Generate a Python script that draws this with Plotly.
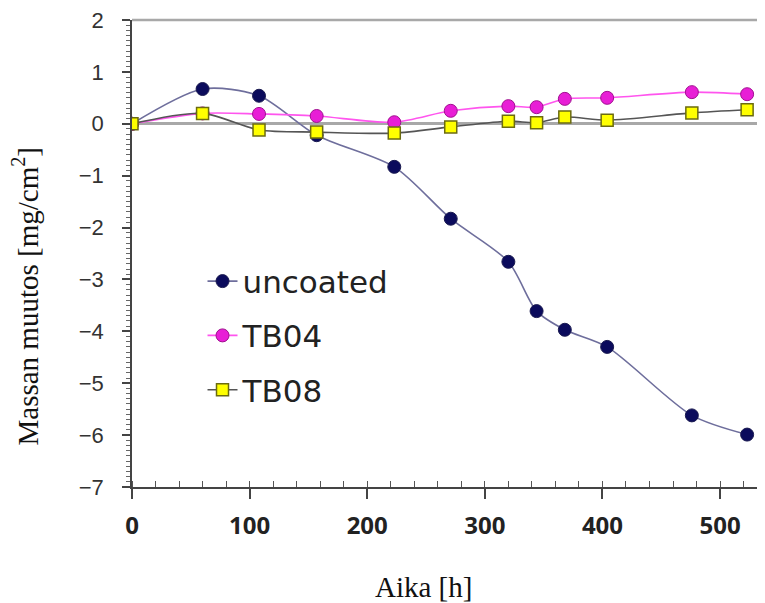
import plotly.graph_objects as go

hours = [0, 60, 108, 157, 223, 271, 320, 344, 368, 404, 476, 523]
uncoated = [0.0, 0.67, 0.54, -0.22, -0.83, -1.83, -2.66, -3.61, -3.97, -4.30, -5.62, -5.99]
tb04 = [0.0, 0.20, 0.19, 0.15, 0.03, 0.25, 0.34, 0.32, 0.48, 0.50, 0.61, 0.57]
tb08 = [0.0, 0.20, -0.12, -0.16, -0.18, -0.06, 0.05, 0.02, 0.13, 0.07, 0.21, 0.27]

fig = go.Figure()
fig.add_trace(go.Scatter(
    x=hours, y=uncoated, name="uncoated", mode="lines+markers", legendgroup="a",
    line=dict(color="#6e6e9c", width=1.6, shape="spline", smoothing=0.8),
    marker=dict(symbol="circle", size=13, color="#0b0b5c", line=dict(color="#1a1a50", width=1)),
))
fig.add_trace(go.Scatter(
    x=hours, y=tb04, name="TB04", mode="lines+markers", legendgroup="b",
    line=dict(color="#ff55ee", width=1.6, shape="spline", smoothing=0.8),
    marker=dict(symbol="circle", size=13, color="#e81ed6", line=dict(color="#a0108f", width=1)),
))
fig.add_trace(go.Scatter(
    x=hours, y=tb08, name="TB08", mode="lines+markers", legendgroup="c",
    line=dict(color="#555555", width=1.6, shape="spline", smoothing=0.8),
    marker=dict(symbol="square", size=12, color="#ffff00", line=dict(color="#6b6b10", width=1.5)),
))

fig.add_shape(type="line", xref="paper", yref="paper", x0=0, x1=1.02, y0=1, y1=1,
              line=dict(color="#a8a8a8", width=2.5))

fig.add_annotation(
    text="Massan muutos [mg/cm<sup>2</sup>]", xref="paper", yref="paper",
    x=-0.167, y=0.41, textangle=-90, showarrow=False, xanchor="center", yanchor="middle",
    font=dict(family="Liberation Serif", size=29, color="#111111"),
)
fig.add_annotation(
    text="Aika [h]", xref="paper", yref="paper",
    x=0.455, y=-0.214, showarrow=False, xanchor="center", yanchor="middle",
    font=dict(family="Liberation Serif", size=29, color="#111111"),
)

fig.update_layout(
    width=765, height=603,
    margin=dict(l=124, r=0, t=12, b=124),
    paper_bgcolor="white", plot_bgcolor="white",
    showlegend=True,
    legend=dict(x=0.11, y=0.498, xanchor="left", yanchor="top",
                font=dict(family="DejaVu Sans", size=31, color="#222222"),
                bgcolor="rgba(0,0,0,0)", tracegroupgap=11, itemwidth=30),
    xaxis=dict(
        range=[0, 545], tick0=0, dtick=100, showgrid=False, zeroline=False,
        automargin=False, ticklabeloverflow="allow",
        showline=True, linecolor="#444444", linewidth=1.5,
        ticks="outside", ticklen=10, tickcolor="#444444", tickwidth=1.5,
        minor=dict(dtick=20, ticks="inside", ticklen=6, tickcolor="#555555", tickwidth=1),
        tickfont=dict(family="Open Sans", size=24, color="#222222", weight="bold"),
        ticklabelstandoff=6,
    ),
    yaxis=dict(
        range=[-7, 2], tick0=0, dtick=1, showgrid=False,
        automargin=False, ticklabeloverflow="allow",
        zeroline=True, zerolinecolor="#a8a8a8", zerolinewidth=2.5,
        showline=True, linecolor="#444444", linewidth=1.5,
        ticks="outside", ticklen=8, tickcolor="#444444", tickwidth=1.5,
        minor=dict(dtick=0.1, ticks="outside", ticklen=4, tickcolor="#666666", tickwidth=1),
        tickfont=dict(family="Liberation Sans", size=22, color="#333333"),
        ticklabelstandoff=14,
    ),
)

fig.write_html("out.html")
